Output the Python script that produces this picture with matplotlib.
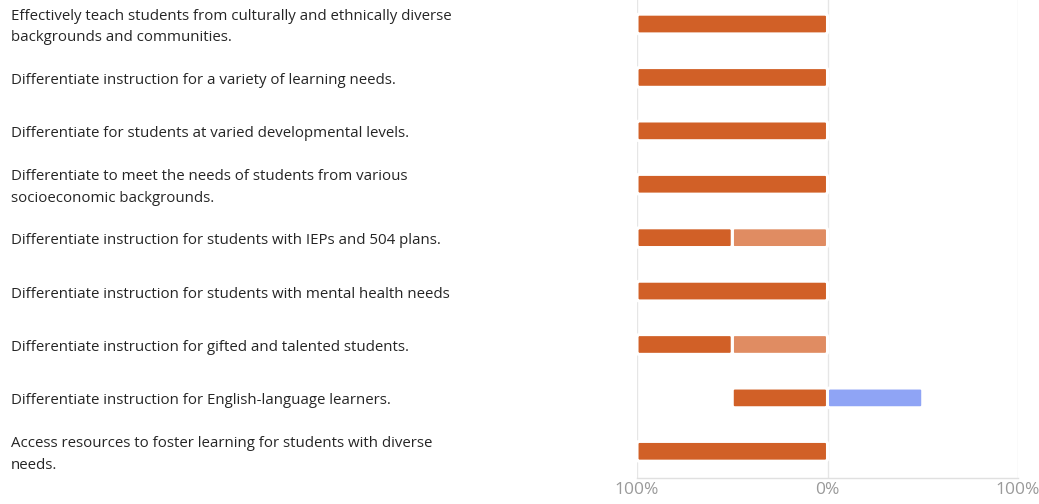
import matplotlib
matplotlib.use("Agg")
import matplotlib.pyplot as plt
from matplotlib.transforms import blended_transform_factory, offset_copy
from matplotlib.patches import FancyBboxPatch
import numpy as np

categories = [
    "Effectively teach students from culturally and ethnically diverse\nbackgrounds and communities.",
    "Differentiate instruction for a variety of learning needs.",
    "Differentiate for students at varied developmental levels.",
    "Differentiate to meet the needs of students from various\nsocioeconomic backgrounds.",
    "Differentiate instruction for students with IEPs and 504 plans.",
    "Differentiate instruction for students with mental health needs",
    "Differentiate instruction for gifted and talented students.",
    "Differentiate instruction for English-language learners.",
    "Access resources to foster learning for students with diverse\nneeds.",
]
# percent of responses per category
dark_neg = [100, 100, 100, 100, 50, 100, 50, 50, 100]
light_neg = [0, 0, 0, 0, 50, 0, 50, 0, 0]
blue_pos = [0, 0, 0, 0, 0, 0, 0, 50, 0]
tick_values = [-100, 0, 100]
tick_labels = ["100%", "0%", "100%"]

c_dark = "#D16027"
c_light = "#E08C62"
c_blue = "#8FA4F5"

W, H = 1039, 504
fig = plt.figure(figsize=(W / 100, H / 100), dpi=100)
ax = fig.add_axes([637 / W, (H - 478) / H, (1018 - 637) / W, 478 / H])

y = np.arange(len(categories))
light = -np.array(light_neg)
dark = -np.array(dark_neg)
h = 0.37
containers = [
    ax.barh(y, light, height=h, color=c_light, zorder=3),
    ax.barh(y, dark, left=light, height=h, color=c_dark, zorder=3),
    ax.barh(y, blue_pos, height=h, color=c_blue, zorder=3),
]

ax.set_xlim(-100, 100)
ax.set_ylim(8.5, -0.45)

# replace rectangles by slightly rounded boxes with a white outline
x_px = 381 / 200.0
y_px = 478 / 8.95
r_units = 2.2 / x_px
aspect = (1 / y_px) / (1 / x_px)
for cont in containers:
    for rect in cont.patches:
        x0, y0 = rect.get_x(), rect.get_y()
        w, hh = rect.get_width(), rect.get_height()
        if abs(w) < 1e-9:
            rect.set_visible(False)
            continue
        if w < 0:
            x0, w = x0 + w, -w
        box = FancyBboxPatch((x0, y0), w, hh,
                             boxstyle=f"round,pad=0,rounding_size={r_units}",
                             mutation_aspect=aspect,
                             facecolor=rect.get_facecolor(), edgecolor="white",
                             linewidth=2.2, zorder=3)
        rect.set_visible(False)
        ax.add_patch(box)

ax.set_xticks(tick_values)
ax.set_xticklabels(tick_labels, fontsize=12.5, color="#9a9a9a", family="Open Sans")
ax.tick_params(axis="x", length=0, pad=3)
ax.set_yticks([])
for s in ["top", "right", "left"]:
    ax.spines[s].set_visible(False)
ax.spines["bottom"].set_color("#e0e0e0")
ax.spines["bottom"].set_linewidth(1)
for v in tick_values:
    ax.axvline(v, color="#e6e6e6", linewidth=1, zorder=1)

tr = blended_transform_factory(fig.transFigure, ax.transData)
tr = offset_copy(tr, fig=fig, x=0, y=-3, units="dots")
for yi, lab in zip(y, categories):
    ax.text(11 / W, yi, lab, transform=tr, ha="left", va="center", fontsize=10.8,
            family="Open Sans", color="#252525", linespacing=1.6, clip_on=False)

fig.savefig("out.png", dpi=100, facecolor="white")
